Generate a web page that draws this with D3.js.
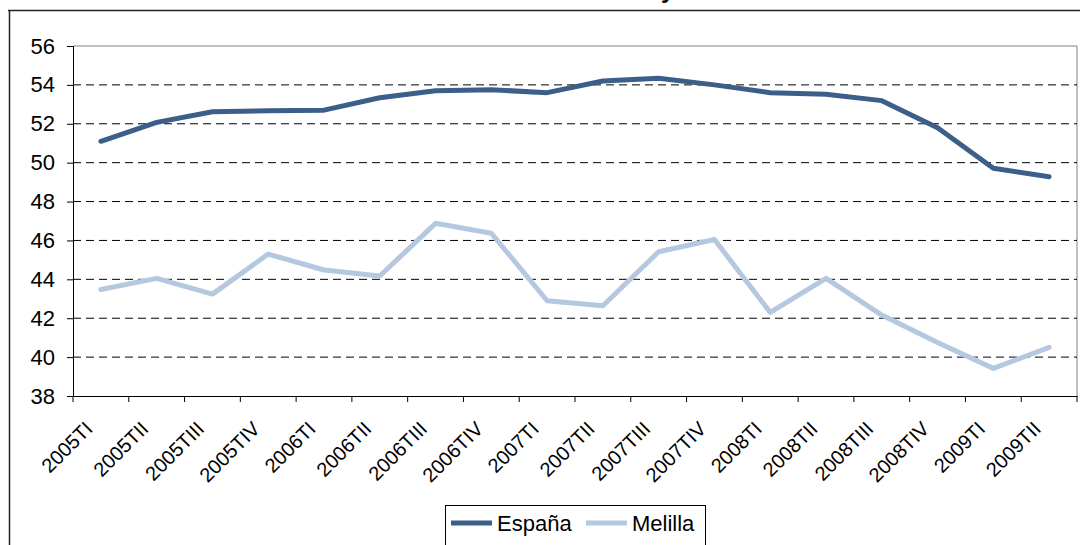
<!DOCTYPE html>
<html>
<head>
<meta charset="utf-8">
<script src="https://cdn.jsdelivr.net/npm/d3@7"></script>
<style>
  html, body { margin: 0; padding: 0; background: #fff; }
  svg { display: block; font-family: "Liberation Sans", Arial, sans-serif; }
</style>
</head>
<body>
<svg id="chart" width="1080" height="545"></svg>
<script>
const categories = ["2005TI","2005TII","2005TIII","2005TIV","2006TI","2006TII","2006TIII","2006TIV",
  "2007TI","2007TII","2007TIII","2007TIV","2008TI","2008TII","2008TIII","2008TIV","2009TI","2009TII"];
const espana  = [51.1, 52.07, 52.62, 52.67, 52.7, 53.34, 53.7, 53.75, 53.6, 54.2, 54.34, 54.0, 53.6, 53.52, 53.19, 51.8, 49.71, 49.28];
const melilla = [43.48, 44.05, 43.24, 45.3, 44.48, 44.17, 46.88, 46.37, 42.9, 42.64, 45.42, 46.05, 42.3, 44.05, 42.16, 40.75, 39.42, 40.5];
const yTicks = [38, 40, 42, 44, 46, 48, 50, 52, 54, 56];
const seriesNames = ["España", "Melilla"];
const seriesColors = ["#3C5F8A", "#B4C8E0"];
const titleText = "Tasa de actividad. Melilla y total nacional";

(function () {
const svg = d3.select("#chart");
const pLeft = 73, pRight = 1077, pTop = 46, pBottom = 396;

const x = d3.scaleBand().domain(categories).range([pLeft, pRight]).padding(0);
const y = d3.scaleLinear().domain([38, 56]).range([pBottom, pTop]);

// outer chart border (partially visible)
svg.append("line").attr("x1", 8).attr("x2", 1080).attr("y1", 10.5).attr("y2", 10.5)
  .attr("stroke", "#222").attr("stroke-width", 1.5);
svg.append("line").attr("x1", 9.5).attr("x2", 9.5).attr("y1", 10).attr("y2", 545)
  .attr("stroke", "#222").attr("stroke-width", 1.5);

// title (mostly above the visible area, as in the reference)
const title = svg.append("text").attr("y", -2).attr("font-size", 24).attr("font-weight", "bold")
  .attr("fill", "#000").text(titleText);
let pre = 0;
try {
  const yIdx = titleText.indexOf(" y ") + 1;
  pre = title.node().getSubStringLength(0, yIdx);
} catch (e) { pre = 380; }
title.attr("x", 661 - pre);

// plot area border top/right
svg.append("line").attr("x1", pLeft).attr("x2", pRight).attr("y1", pTop).attr("y2", pTop)
  .attr("stroke", "#808080").attr("stroke-width", 1);
svg.append("line").attr("x1", pRight).attr("x2", pRight).attr("y1", pTop).attr("y2", pBottom)
  .attr("stroke", "#808080").attr("stroke-width", 1);

// gridlines
svg.append("g").selectAll("line").data(yTicks.filter(d => d > 38 && d < 56)).join("line")
  .attr("x1", pLeft).attr("x2", pRight)
  .attr("y1", d => y(d)).attr("y2", d => y(d))
  .attr("stroke", "#000").attr("stroke-width", 1).attr("stroke-dasharray", "8,5");

// y axis
const yAxis = d3.axisLeft(y).tickValues(yTicks).tickSize(6).tickPadding(12).tickFormat(d3.format("d"));
const gy = svg.append("g").attr("transform", `translate(${pLeft},0)`).call(yAxis);
gy.select(".domain").attr("stroke", "#000");
gy.selectAll(".tick line").attr("stroke", "#000");
gy.selectAll(".tick text").attr("font-size", 22).attr("fill", "#000")
  .attr("font-family", "'Liberation Sans', Arial, sans-serif");

// x axis: ticks at category boundaries
const xAxis = d3.axisBottom(x).tickSize(0).tickFormat("");
const gx = svg.append("g").attr("transform", `translate(0,${pBottom})`).call(xAxis);
gx.select(".domain").attr("stroke", "#000");
const bounds = categories.map(c => x(c)).concat([pRight]);
gx.append("g").selectAll("line").data(bounds).join("line")
  .attr("x1", d => d).attr("x2", d => d).attr("y1", 0).attr("y2", 6).attr("stroke", "#000");
svg.append("g").selectAll("text").data(categories).join("text")
  .attr("transform", d => `translate(${x(d) + x.bandwidth() / 2 - 7},430) rotate(-45)`)
  .attr("text-anchor", "end").attr("font-size", 20).attr("fill", "#000")
  .text(d => d);

// lines
const line = d3.line().x((d, i) => x(categories[i]) + x.bandwidth() / 2).y(d => y(d));
[espana, melilla].forEach((s, k) => {
  svg.append("path").datum(s).attr("d", line).attr("fill", "none")
    .attr("stroke", seriesColors[k]).attr("stroke-width", 5)
    .attr("stroke-linejoin", "round").attr("stroke-linecap", "round");
});

// legend
svg.append("rect").attr("x", 445.5).attr("y", 505.5).attr("width", 260).attr("height", 60)
  .attr("fill", "#fff").attr("stroke", "#000").attr("stroke-width", 1);
const legendItems = [{x: 451, tx: 497}, {x: 586, tx: 632}];
seriesNames.forEach((n, k) => {
  svg.append("line").attr("x1", legendItems[k].x).attr("x2", legendItems[k].x + 41)
    .attr("y1", 523).attr("y2", 523).attr("stroke", seriesColors[k]).attr("stroke-width", 5);
  svg.append("text").attr("x", legendItems[k].tx).attr("y", 531).attr("font-size", 22)
    .attr("fill", "#000").text(n);
});
})();
</script>
</body>
</html>
